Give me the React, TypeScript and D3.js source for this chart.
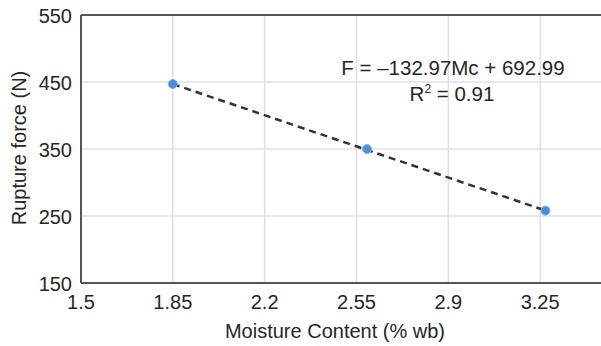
import React from "react";
import * as d3 from "d3";

const moisture = [1.85, 2.59, 3.27];
const force = [447, 350, 258];
const xTicks = [1.5, 1.85, 2.2, 2.55, 2.9, 3.25];
const yTicks = [150, 250, 350, 450, 550];
const slope = -132.97;
const intercept = 692.99;
const equationText = "F = \u2013132.97Mc + 692.99";
const r2Text = "0.91";

const W = 601, H = 346;
const left = 81, top = 15, bottom = 283, right = 632;
const FONT = "'Liberation Sans', Arial, sans-serif";
const FS = 20;

export default function App() {
  const x = d3.scaleLinear().domain([1.5, 3.6]).range([left, right]);
  const y = d3.scaleLinear().domain([150, 550]).range([bottom, top]);
  const x0 = d3.min(moisture)!, x1 = d3.max(moisture)!;
  const line = d3.line<number>().x(d => x(d)).y(d => y(slope * d + intercept));
  return (
    <svg width={W} height={H} style={{ position: "absolute", left: 0, top: 0, background: "#fff" }}>
      {xTicks.map(t => (
        <line key={"gx" + t} x1={x(t)} x2={x(t)} y1={top} y2={bottom} stroke="#e0e0e0" strokeWidth={1.5} />
      ))}
      {yTicks.map(t => (
        <line key={"gy" + t} x1={left} x2={W} y1={y(t)} y2={y(t)} stroke="#e0e0e0" strokeWidth={1.5} />
      ))}
      <line x1={left} x2={W} y1={top} y2={top} stroke="#555" strokeWidth={2} />
      <line x1={left} x2={W} y1={bottom} y2={bottom} stroke="#555" strokeWidth={2} />
      <line x1={left} x2={left} y1={top} y2={bottom} stroke="#555" strokeWidth={2} />
      {xTicks.map(t => (
        <text key={"tx" + t} x={x(t)} y={309} textAnchor="middle" fontFamily={FONT} fontSize={FS} fill="#262626">{t}</text>
      ))}
      {yTicks.map(t => (
        <text key={"ty" + t} x={72} y={y(t) + 8} textAnchor="end" fontFamily={FONT} fontSize={FS} fill="#262626">{t}</text>
      ))}
      <text x={335} y={338} textAnchor="middle" fontFamily={FONT} fontSize={FS} fill="#262626">Moisture Content (% wb)</text>
      <text transform={`translate(26,148) rotate(-90)`} textAnchor="middle" fontFamily={FONT} fontSize={FS} fill="#262626">Rupture force (N)</text>
      <path d={line([x0, x1]) || ""} fill="none" stroke="#333" strokeWidth={2.5} strokeDasharray="7,5" />
      {moisture.map((m, i) => (
        <circle key={"p" + i} cx={x(m)} cy={y(force[i])} r={4.5} fill="#4a90d9" stroke="#7fb2e5" strokeWidth={1} />
      ))}
      <text x={453} y={75} textAnchor="middle" fontFamily={FONT} fontSize={20.5} fill="#262626">{equationText}</text>
      <text x={452} y={101} textAnchor="middle" fontFamily={FONT} fontSize={20.5} fill="#262626">
        R<tspan fontSize={12} dy={-8}>2</tspan><tspan dy={8}>{" = " + r2Text}</tspan>
      </text>
    </svg>
  );
}
